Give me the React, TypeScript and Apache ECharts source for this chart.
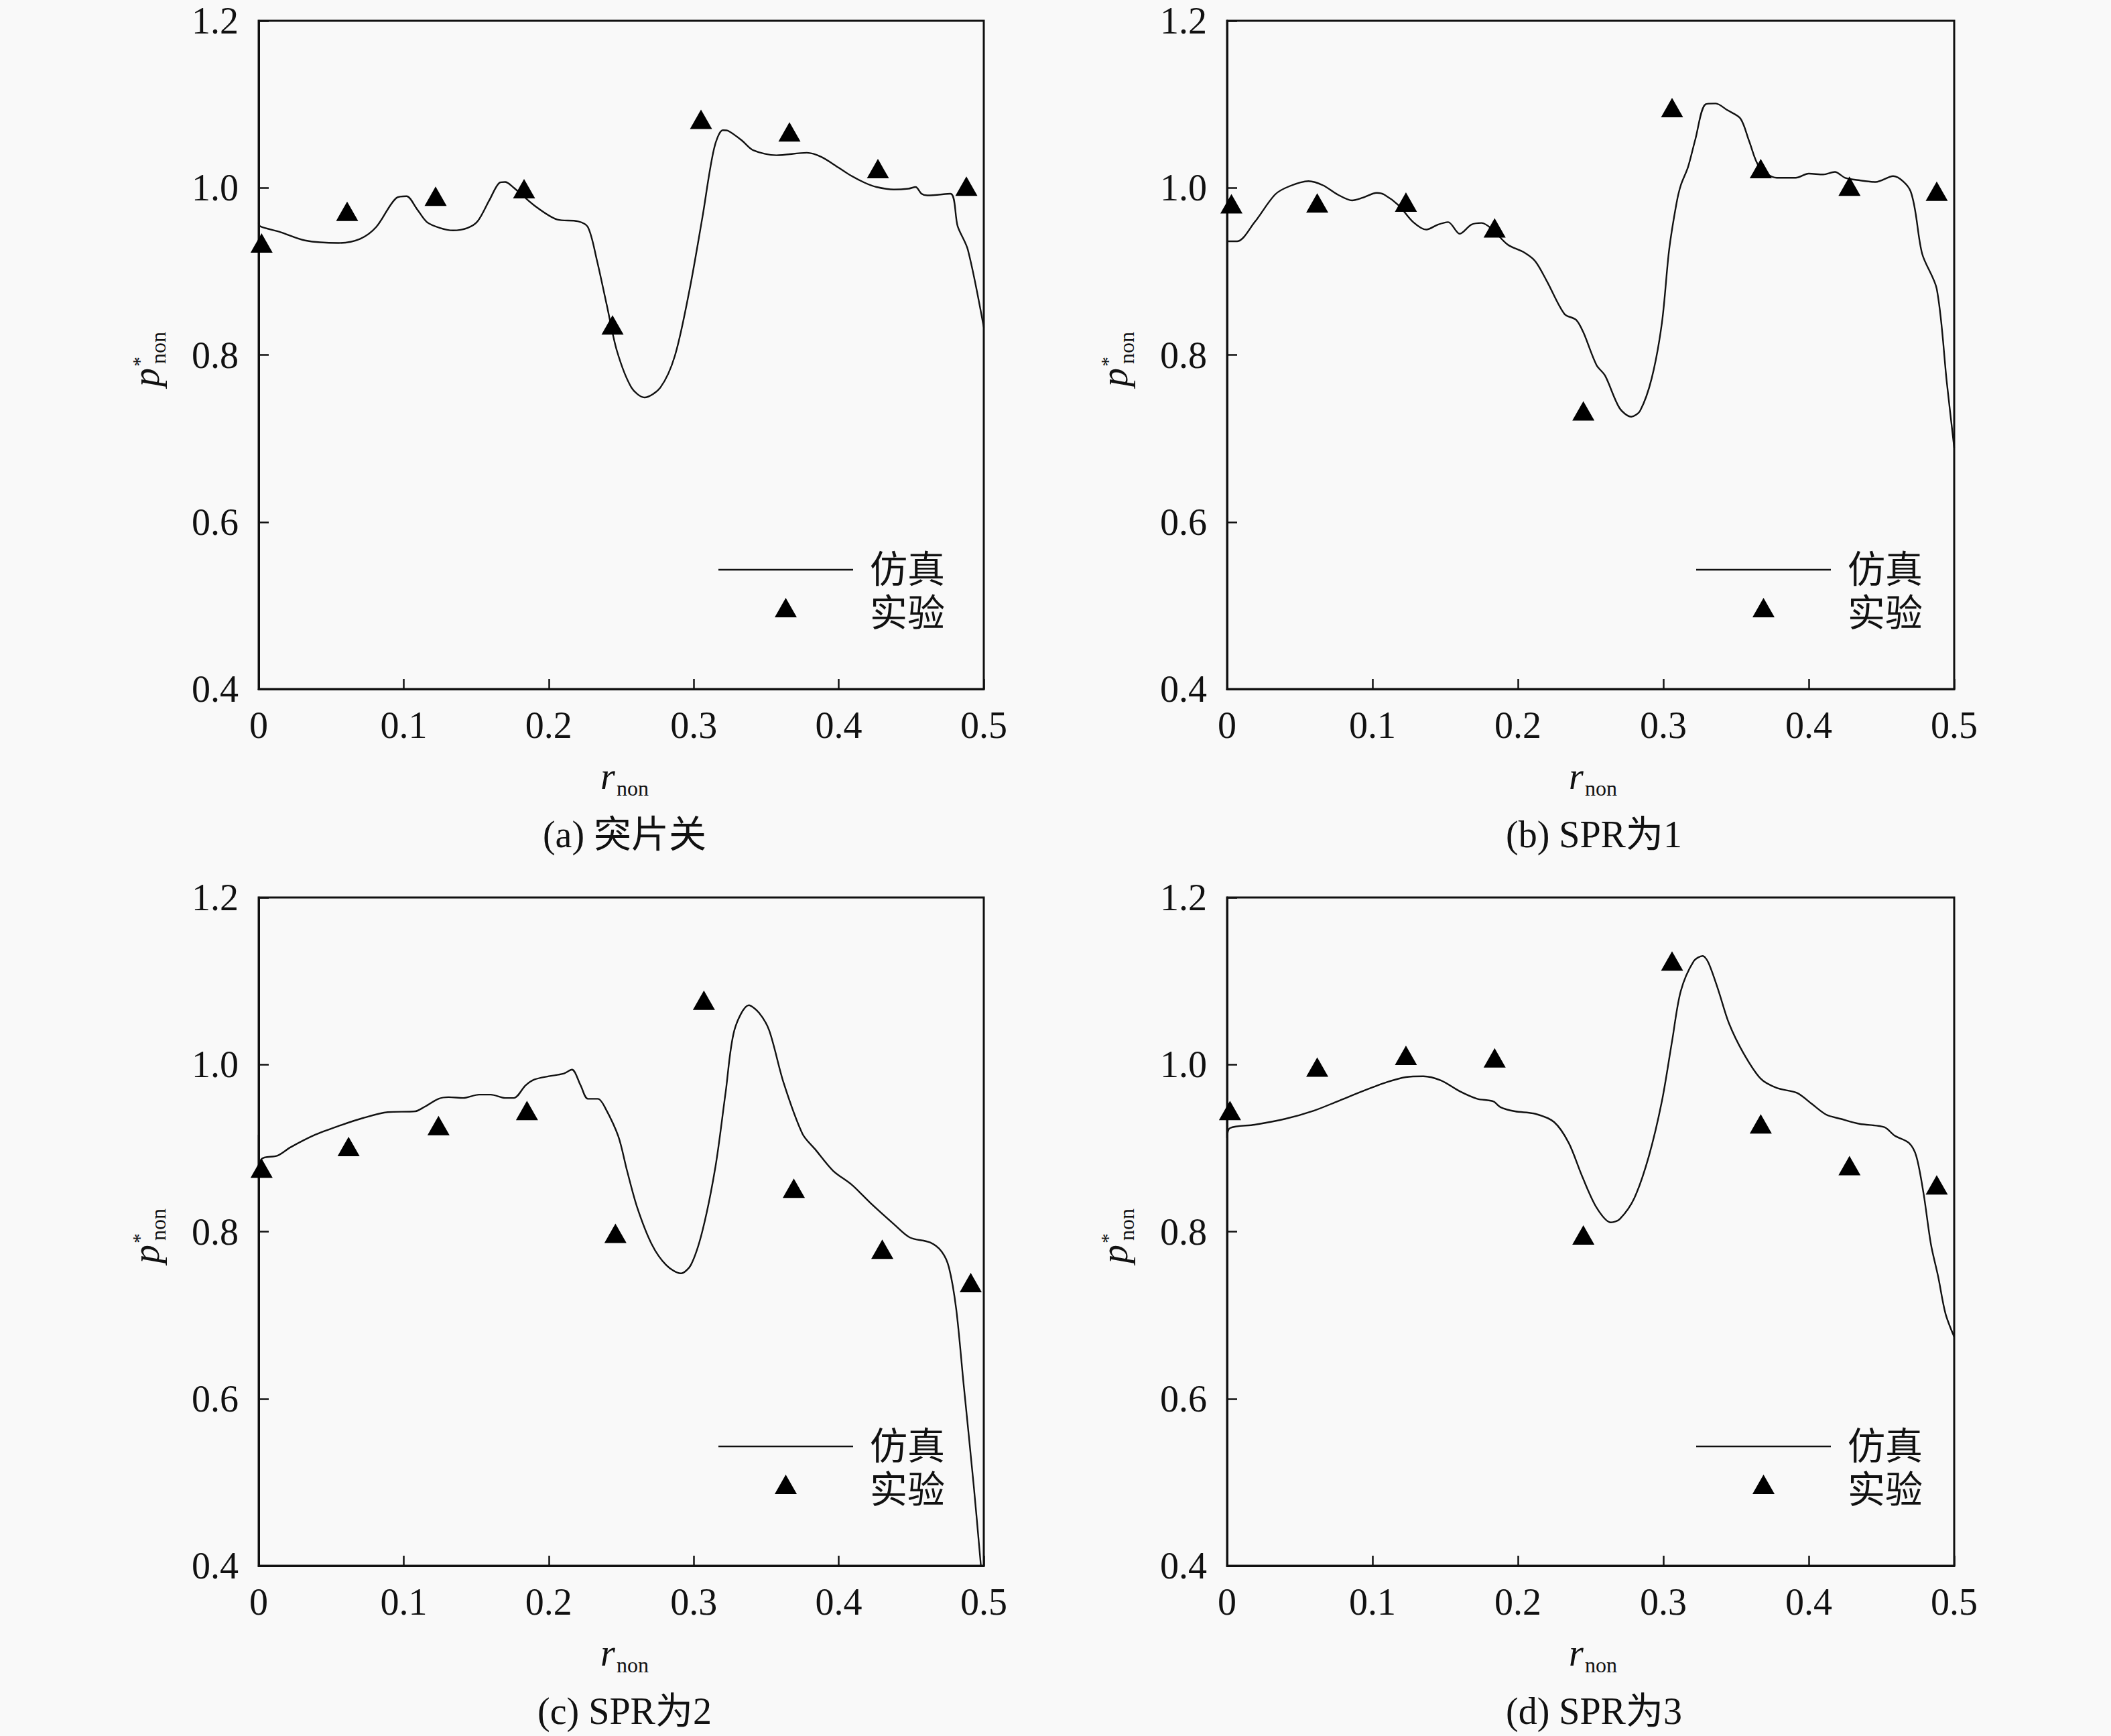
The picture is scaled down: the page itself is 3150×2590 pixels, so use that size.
import React, { useEffect, useRef } from "react";
import * as echarts from "echarts";

// ---------- data ----------
const xTicks = [0, 0.1, 0.2, 0.3, 0.4, 0.5];
const yTicks = [0.4, 0.6, 0.8, 1.0, 1.2];
const captions = ["(a) 突片关", "(b) SPR为1", "(c) SPR为2", "(d) SPR为3"];
const legendNames = ["仿真", "实验"];

const simA = [
  [0, 0.958], [0.001, 0.954], [0.015, 0.947], [0.032, 0.937], [0.055, 0.934], [0.07, 0.939],
  [0.081, 0.953], [0.095, 0.988], [0.102, 0.99], [0.109, 0.975], [0.116, 0.959], [0.125, 0.952],
  [0.134, 0.949], [0.144, 0.952], [0.151, 0.96], [0.159, 0.985], [0.166, 1.006], [0.17, 1.007],
  [0.176, 1.0], [0.19, 0.979], [0.206, 0.962], [0.22, 0.96], [0.227, 0.953], [0.233, 0.915],
  [0.24, 0.86], [0.247, 0.805], [0.257, 0.761], [0.266, 0.749], [0.277, 0.761], [0.287, 0.799],
  [0.297, 0.877], [0.306, 0.965], [0.314, 1.047], [0.32, 1.069], [0.324, 1.068], [0.333, 1.057],
  [0.341, 1.045], [0.357, 1.039], [0.378, 1.042], [0.388, 1.037], [0.4, 1.024], [0.408, 1.015],
  [0.418, 1.006], [0.426, 1.001], [0.438, 0.998], [0.448, 0.999], [0.453, 1.001], [0.457, 0.993],
  [0.461, 0.991], [0.477, 0.993], [0.482, 0.954], [0.489, 0.926], [0.5, 0.833],
];
const expA = [
  [0.002, 0.934], [0.061, 0.972], [0.122, 0.99], [0.183, 0.999], [0.244, 0.836],
  [0.305, 1.082], [0.366, 1.067], [0.427, 1.023], [0.488, 1.002],
];

const simB = [
  [0, 0.936], [0.007, 0.936], [0.019, 0.959], [0.033, 0.992], [0.043, 1.002], [0.056, 1.008],
  [0.066, 1.003], [0.076, 0.992], [0.086, 0.985], [0.093, 0.988], [0.103, 0.994], [0.108, 0.992],
  [0.118, 0.979], [0.128, 0.959], [0.137, 0.95], [0.145, 0.956], [0.152, 0.959], [0.16, 0.945],
  [0.168, 0.956], [0.175, 0.958], [0.182, 0.951], [0.193, 0.932], [0.204, 0.923], [0.212, 0.912],
  [0.22, 0.888], [0.232, 0.849], [0.24, 0.842], [0.245, 0.827], [0.254, 0.788], [0.26, 0.775],
  [0.27, 0.736], [0.278, 0.726], [0.284, 0.733], [0.292, 0.772], [0.299, 0.838], [0.304, 0.926],
  [0.309, 0.981], [0.312, 1.003], [0.317, 1.025], [0.322, 1.058], [0.329, 1.1], [0.336, 1.101],
  [0.344, 1.093], [0.353, 1.083], [0.359, 1.056], [0.366, 1.025], [0.378, 1.012], [0.391, 1.012],
  [0.4, 1.017], [0.41, 1.016], [0.418, 1.019], [0.425, 1.012], [0.435, 1.009], [0.446, 1.007],
  [0.458, 1.014], [0.47, 0.996], [0.478, 0.921], [0.488, 0.879], [0.495, 0.766], [0.5, 0.689],
];
const expB = [
  [0.003, 0.981], [0.062, 0.982], [0.123, 0.983], [0.184, 0.952], [0.245, 0.733],
  [0.306, 1.096], [0.367, 1.023], [0.428, 1.002], [0.488, 0.996],
];

const simC = [
  [0, 0.916], [0, 0.866], [0.002, 0.887], [0.013, 0.891], [0.022, 0.901], [0.039, 0.916],
  [0.056, 0.927], [0.072, 0.936], [0.089, 0.943], [0.108, 0.944], [0.114, 0.949], [0.124, 0.959],
  [0.131, 0.961], [0.141, 0.96], [0.152, 0.964], [0.16, 0.964], [0.17, 0.96], [0.176, 0.96],
  [0.184, 0.975], [0.19, 0.982], [0.2, 0.986], [0.21, 0.989], [0.216, 0.994], [0.222, 0.975],
  [0.227, 0.959], [0.234, 0.959], [0.239, 0.948], [0.248, 0.914], [0.254, 0.873], [0.261, 0.829],
  [0.271, 0.785], [0.281, 0.76], [0.291, 0.75], [0.298, 0.76], [0.306, 0.801], [0.315, 0.878],
  [0.322, 0.967], [0.328, 1.041], [0.338, 1.071], [0.345, 1.062], [0.352, 1.041], [0.362, 0.978],
  [0.375, 0.917], [0.384, 0.898], [0.396, 0.873], [0.409, 0.856], [0.422, 0.834], [0.438, 0.809],
  [0.449, 0.793], [0.463, 0.787], [0.471, 0.776], [0.476, 0.757], [0.481, 0.707], [0.486, 0.619],
  [0.493, 0.497], [0.498, 0.4],
];
const expC = [
  [0.002, 0.876], [0.062, 0.902], [0.124, 0.927], [0.185, 0.945], [0.246, 0.798],
  [0.307, 1.077], [0.369, 0.852], [0.43, 0.779], [0.491, 0.739],
];

const simD = [
  [0, 0.94], [0, 0.912], [0.002, 0.924], [0.019, 0.928], [0.04, 0.935], [0.06, 0.945],
  [0.076, 0.956], [0.093, 0.968], [0.11, 0.979], [0.123, 0.985], [0.135, 0.986], [0.147, 0.981],
  [0.16, 0.968], [0.172, 0.959], [0.183, 0.956], [0.188, 0.949], [0.198, 0.944], [0.212, 0.941],
  [0.225, 0.931], [0.235, 0.906], [0.244, 0.867], [0.254, 0.829], [0.264, 0.811], [0.27, 0.815],
  [0.28, 0.84], [0.29, 0.89], [0.299, 0.956], [0.306, 1.028], [0.312, 1.088], [0.321, 1.124],
  [0.327, 1.13], [0.331, 1.122], [0.338, 1.088], [0.345, 1.05], [0.355, 1.014], [0.367, 0.983],
  [0.378, 0.972], [0.392, 0.966], [0.402, 0.953], [0.412, 0.94], [0.422, 0.935], [0.435, 0.929],
  [0.452, 0.925], [0.459, 0.915], [0.469, 0.906], [0.474, 0.89], [0.479, 0.845], [0.484, 0.785],
  [0.489, 0.746], [0.494, 0.702], [0.5, 0.674],
];
const expD = [
  [0.002, 0.945], [0.062, 0.997], [0.123, 1.011], [0.184, 1.008], [0.245, 0.796],
  [0.306, 1.124], [0.367, 0.929], [0.428, 0.879], [0.488, 0.856],
];

const simSeries = [simA, simB, simC, simD];
const expSeries = [expA, expB, expC, expD];

// ---------- layout ----------
const GRIDS = [
  { left: 386, top: 31, width: 1082, height: 997 },
  { left: 1831, top: 31, width: 1085, height: 997 },
  { left: 386, top: 1339, width: 1082, height: 997 },
  { left: 1831, top: 1339, width: 1085, height: 997 },
];
const LEGEND_DX = [686, 700, 686, 700];

const SERIF = "'Liberation Serif', 'Times New Roman', serif";
const MIXED = "'Liberation Serif', 'Noto Sans CJK SC', serif";
const INK = "#111111";
const LINE_ICON = "path://M0,0 L201,0 L201,2.4 L0,2.4 Z";
const TRI_ICON = "path://M16.5,0 L33,29 L0,29 Z M0,46 L0.05,46 Z";

export default function App() {
  const ref = useRef<HTMLDivElement>(null);

  useEffect(() => {
    if (!ref.current) return;
    const chart = echarts.init(ref.current, undefined, { renderer: "svg" });

    const grid: any[] = [];
    const xAxis: any[] = [];
    const yAxis: any[] = [];
    const series: any[] = [];
    const legend: any[] = [];
    const graphic: any[] = [];

    GRIDS.forEach((g, i) => {
      grid.push({
        ...g,
        show: true,
        borderColor: INK,
        borderWidth: 3,
        backgroundColor: "transparent",
      });
      xAxis.push({
        gridIndex: i,
        type: "value",
        min: xTicks[0],
        max: xTicks[xTicks.length - 1],
        interval: 0.1,
        axisLine: { show: true, lineStyle: { color: INK, width: 3 } },
        axisTick: { show: true, inside: true, length: 15, lineStyle: { color: INK, width: 2.5 } },
        splitLine: { show: false },
        axisLabel: {
          fontSize: 56,
          fontFamily: SERIF,
          color: "#111",
          margin: 26,
          formatter: (v: number) => (Math.abs(v) < 1e-9 ? "0" : v.toFixed(1)),
        },
      });
      yAxis.push({
        gridIndex: i,
        type: "value",
        min: yTicks[0],
        max: yTicks[yTicks.length - 1],
        interval: 0.2,
        axisLine: { show: true, lineStyle: { color: INK, width: 3 } },
        axisTick: { show: true, inside: true, length: 15, lineStyle: { color: INK, width: 2.5 } },
        splitLine: { show: false },
        axisLabel: {
          fontSize: 56,
          fontFamily: SERIF,
          color: "#111",
          margin: 30,
          formatter: (v: number) => v.toFixed(1),
        },
      });
      series.push({
        type: "line",
        name: legendNames[0],
        xAxisIndex: i,
        yAxisIndex: i,
        data: simSeries[i],
        symbol: "none",
        showSymbol: false,
        smooth: 0.3,
        lineStyle: { color: INK, width: 2.4 },
        itemStyle: { color: INK },
        z: 3,
      });
      series.push({
        type: "scatter",
        name: legendNames[1],
        xAxisIndex: i,
        yAxisIndex: i,
        data: expSeries[i],
        symbol: "triangle",
        symbolSize: [33, 29],
        itemStyle: { color: "#000", opacity: 1 },
        z: 4,
      });
      legend.push({
        left: g.left + LEGEND_DX[i],
        top: g.top + 789,
        orient: "vertical",
        padding: 0,
        itemWidth: 201,
        itemHeight: 46,
        itemGap: 5,
        selectedMode: false,
        symbolKeepAspect: true,
        textStyle: {
          fontSize: 56,
          lineHeight: 60,
          fontFamily: MIXED,
          color: "#111",
          padding: [0, 0, 0, 20],
        },
        data: [
          { name: legendNames[0], icon: LINE_ICON, itemStyle: { color: INK, opacity: 1 } },
          { name: legendNames[1], icon: TRI_ICON, itemStyle: { color: "#000", opacity: 1 } },
        ],
      });

      const bottom = g.top + g.height;
      // y axis name: p*_non (rotated)
      graphic.push({
        type: "group",
        x: g.left - 150,
        y: g.top + 546,
        rotation: Math.PI / 2,
        silent: true,
        children: [
          {
            type: "text",
            x: 0,
            y: -18,
            style: {
              text: "p",
              fontSize: 56,
              fontStyle: "italic",
              fontFamily: SERIF,
              fill: "#111",
              align: "left",
              verticalAlign: "middle",
            },
          },
          {
            type: "text",
            x: 30,
            y: -29,
            style: {
              text: "*",
              fontSize: 30,
              fontFamily: SERIF,
              fill: "#111",
              align: "left",
              verticalAlign: "middle",
            },
          },
          {
            type: "text",
            x: 34,
            y: 0,
            style: {
              text: "non",
              fontSize: 32,
              fontFamily: SERIF,
              fill: "#111",
              align: "left",
              verticalAlign: "middle",
            },
          },
        ],
      });
      // x axis name: r_non
      graphic.push({
        type: "text",
        x: g.left + 510,
        y: bottom + 130,
        silent: true,
        style: {
          text: "r",
          fontSize: 56,
          fontStyle: "italic",
          fontFamily: SERIF,
          fill: "#111",
          align: "left",
          verticalAlign: "middle",
        },
      });
      graphic.push({
        type: "text",
        x: g.left + 534,
        y: bottom + 148,
        silent: true,
        style: {
          text: "non",
          fontSize: 32,
          fontFamily: SERIF,
          fill: "#111",
          align: "left",
          verticalAlign: "middle",
        },
      });
      // caption
      graphic.push({
        type: "text",
        x: g.left + g.width / 2 + 5,
        y: bottom + 217,
        silent: true,
        style: {
          text: captions[i],
          fontSize: 56,
          fontFamily: MIXED,
          fill: "#111",
          align: "center",
          verticalAlign: "middle",
        },
      });
    });

    chart.setOption({
      animation: false,
      backgroundColor: "#f9f9f9",
      grid,
      xAxis,
      yAxis,
      series,
      legend,
      graphic,
    });

    return () => chart.dispose();
  }, []);

  return (
    <div
      ref={ref}
      style={{ position: "fixed", left: 0, top: 0, width: 3150, height: 2590 }}
    />
  );
}
